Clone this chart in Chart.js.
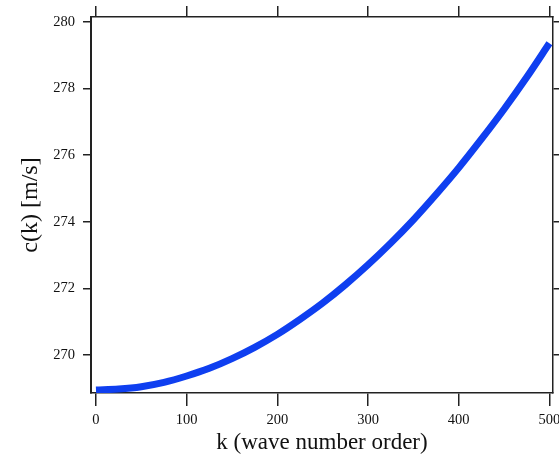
<!DOCTYPE html>
<html>
<head>
<meta charset="utf-8">
<script src="https://cdn.jsdelivr.net/npm/chart.js@4/dist/chart.umd.min.js"></script>
<style>
  html, body { margin: 0; padding: 0; background: #fff; }
  #wrap { width: 559px; height: 457px; }
</style>
</head>
<body>
<div id="wrap"><canvas id="speed-chart"></canvas></div>
<script>
// values
const kValues = [0, 25, 50, 75, 100, 125, 150, 175, 200, 225, 250, 275, 300, 325, 350, 375, 400, 425, 450, 475, 500];
const cValues = [268.95, 268.98, 269.05, 269.18, 269.37, 269.60, 269.89, 270.23, 270.62, 271.07, 271.56, 272.11, 272.71, 273.36, 274.06, 274.82, 275.62, 276.48, 277.38, 278.34, 279.36];
const xTicks = [0, 100, 200, 300, 400, 500];
const yTicks = [270, 272, 274, 276, 278, 280];

const serif = 'Liberation Serif';
const axisColor = '#222';

function fixTicks(list) {
  return scale => { scale.ticks = list.map(v => ({ value: v })); };
}

// pin the axis box size and drop the label overhang padding
function fixSize(prop, size) {
  return s => {
    s[prop] = size;
    s.paddingLeft = 0; s.paddingRight = 0; s.paddingTop = 0; s.paddingBottom = 0;
  };
}

function tickGrid(len, width) {
  return { drawOnChartArea: false, drawTicks: true, tickLength: len, tickColor: axisColor, lineWidth: width || 1.5 };
}

const ctx = document.getElementById('speed-chart').getContext('2d');
new Chart(ctx, {
  type: 'line',
  data: {
    datasets: [{
      data: kValues.map((k, i) => ({ x: k, y: cValues[i] })),
      borderColor: '#0f3ff0',
      borderWidth: 7,
      pointRadius: 0,
      cubicInterpolationMode: 'monotone',
      fill: false
    }]
  },
  options: {
    responsive: true,
    maintainAspectRatio: false,
    animation: false,
    layout: { padding: 0 },
    plugins: { legend: { display: false }, tooltip: { enabled: false } },
    scales: {
      x: {
        type: 'linear',
        position: 'bottom',
        min: -5.5,
        max: 504,
        afterBuildTicks: fixTicks(xTicks),
        afterFit: fixSize('height', 64),
        grid: tickGrid(13),
        border: { color: axisColor, width: 1.5 },
        ticks: { color: '#111', font: { family: serif, size: 14.5 }, padding: 5, maxRotation: 0 },
        title: { display: true, text: 'k (wave number order)', color: '#111', font: { family: serif, size: 23 }, padding: { top: 0, bottom: 0 } }
      },
      x2: {
        type: 'linear',
        position: 'top',
        min: -5.5,
        max: 504,
        afterBuildTicks: fixTicks(xTicks),
        afterFit: fixSize('height', 17),
        grid: tickGrid(11),
        border: { color: axisColor, width: 1.5 },
        ticks: { display: false }
      },
      y: {
        type: 'linear',
        position: 'left',
        min: 268.86,
        max: 280.15,
        afterBuildTicks: fixTicks(yTicks),
        afterFit: fixSize('width', 91),
        grid: tickGrid(8),
        border: { color: axisColor, width: 2 },
        ticks: { color: '#111', font: { family: serif, size: 14.5 }, padding: 8 },
        title: { display: true, text: 'c(k) [m/s]', color: '#111', font: { family: serif, size: 24 }, padding: { top: 16, bottom: 0 } }
      },
      y2: {
        type: 'linear',
        position: 'right',
        min: 268.86,
        max: 280.15,
        afterBuildTicks: fixTicks(yTicks),
        afterFit: fixSize('width', 6),
        grid: tickGrid(8),
        border: { color: axisColor, width: 1.5 },
        ticks: { display: false }
      }
    }
  }
});
</script>
</body>
</html>
